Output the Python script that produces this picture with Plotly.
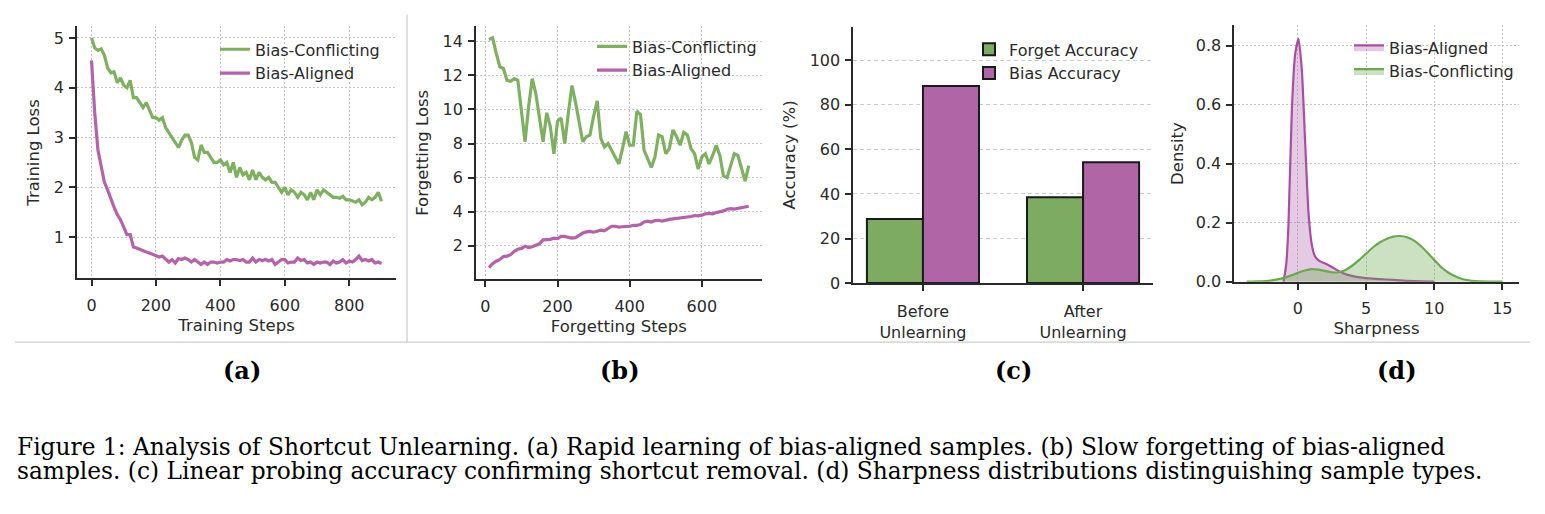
import plotly.graph_objects as go

W, H = 1545, 514

# ---------------- data ----------------
train_steps = list(range(0, 901, 10))
train_conflicting = [5.0, 4.8, 4.75, 4.78, 4.65, 4.4, 4.3, 4.32, 4.1, 4.2,
                     4.05, 4.0, 4.15, 3.8, 3.8, 3.7, 3.6, 3.7, 3.55, 3.4,
                     3.4, 3.35, 3.4, 3.2, 3.1, 3.0, 2.9, 2.8, 2.95, 3.05,
                     3.05, 2.9, 2.6, 2.55, 2.85, 2.7, 2.7, 2.6, 2.5, 2.5,
                     2.55, 2.45, 2.5, 2.3, 2.5, 2.2, 2.4, 2.25, 2.3, 2.15,
                     2.35, 2.15, 2.3, 2.2, 2.15, 2.2, 2.1, 2.1, 2.0, 1.9,
                     2.0, 1.85, 1.95, 1.9, 1.8, 1.9, 1.85, 1.75, 1.9, 1.75,
                     1.95, 1.85, 1.95, 1.9, 1.85, 1.8, 1.8, 1.78, 1.82, 1.75,
                     1.75, 1.72, 1.7, 1.75, 1.65, 1.7, 1.8, 1.75, 1.8, 1.9,
                     1.72]
train_aligned = [4.55, 3.5, 2.75, 2.4, 2.1, 1.95, 1.75, 1.6, 1.45, 1.35,
                 1.2, 1.05, 1.05, 0.8, 0.78, 0.75, 0.72, 0.7, 0.68, 0.65,
                 0.62, 0.6, 0.62, 0.55, 0.5, 0.55, 0.48, 0.57, 0.55, 0.58,
                 0.55, 0.5, 0.55, 0.5, 0.45, 0.5, 0.45, 0.5, 0.5, 0.48,
                 0.5, 0.5, 0.55, 0.52, 0.55, 0.55, 0.53, 0.55, 0.5, 0.5,
                 0.58, 0.5, 0.55, 0.53, 0.55, 0.52, 0.55, 0.45, 0.5, 0.55,
                 0.55, 0.48, 0.5, 0.5, 0.58, 0.53, 0.55, 0.48, 0.5, 0.45,
                 0.5, 0.48, 0.5, 0.5, 0.45, 0.52, 0.48, 0.5, 0.55, 0.48,
                 0.52, 0.5, 0.55, 0.62, 0.53, 0.55, 0.52, 0.55, 0.48, 0.5,
                 0.47]

forget_steps = list(range(10, 731, 10))
forget_conflicting = [14.1, 14.2, 13.3, 12.5, 12.4, 11.7, 11.65, 11.8, 11.7, 10.0,
                      8.1, 10.2, 11.8, 10.9, 9.5, 8.1, 9.8, 9.0, 7.4, 9.3,
                      9.5, 8.0, 9.8, 11.4, 10.4, 9.2, 8.1, 8.4, 8.5, 9.6,
                      10.5, 8.3, 7.8, 8.0, 7.6, 7.2, 6.8, 7.7, 8.7, 7.9,
                      7.9, 9.9, 9.7, 7.6, 7.1, 6.6, 7.2, 8.5, 8.4, 7.4,
                      7.7, 8.8, 8.4, 7.9, 8.65, 8.5, 7.7, 7.4, 6.5, 7.2,
                      7.4, 6.8, 7.3, 7.9, 7.3, 6.1, 6.0, 6.7, 7.4, 7.3,
                      6.6, 5.8, 6.7]
forget_aligned = [0.73, 0.95, 1.1, 1.2, 1.37, 1.4, 1.48, 1.68, 1.8, 1.85,
                  1.98, 1.9, 1.95, 2.05, 2.12, 2.35, 2.35, 2.38, 2.45, 2.42,
                  2.55, 2.55, 2.5, 2.45, 2.48, 2.62, 2.75, 2.82, 2.85, 2.8,
                  2.85, 2.92, 2.88, 3.0, 3.15, 3.15, 3.1, 3.12, 3.12, 3.15,
                  3.2, 3.2, 3.25, 3.4, 3.45, 3.4, 3.48, 3.5, 3.45, 3.52,
                  3.55, 3.58, 3.6, 3.62, 3.68, 3.68, 3.72, 3.78, 3.76, 3.8,
                  3.88, 3.9, 3.88, 3.95, 4.0, 4.05, 4.15, 4.18, 4.15, 4.2,
                  4.22, 4.28, 4.32]

bar_categories = ["Before<br>Unlearning", "After<br>Unlearning"]
forget_accuracy = [28.8, 38.5]
bias_accuracy = [88.4, 54.2]

kde_aligned_x = [-1.05, -0.85, -0.69, -0.44, -0.2, 0.05, 0.29, 0.54, 0.78, 1.03,
                 1.27, 1.6, 2.1, 2.6, 3.1, 3.6, 4.2, 5.0, 6.0, 7.0, 8.0, 9.0, 10.0]
kde_aligned_y = [0.0, 0.06, 0.19, 0.58, 0.77, 0.824, 0.72, 0.47, 0.235, 0.124,
                 0.085, 0.07, 0.06, 0.047, 0.034, 0.024, 0.017, 0.012, 0.009, 0.006,
                 0.003, 0.001, 0.0]
kde_conflicting_x = [-3.75, -3.0, -2.0, -1.0, -0.5, 0.0, 0.5, 1.0, 1.5, 2.0,
                     2.5, 3.0, 3.5, 4.0, 4.5, 5.0, 5.5, 6.0, 6.5, 7.0,
                     7.5, 8.0, 8.5, 9.0, 9.5, 10.0, 10.5, 11.0, 11.5, 12.0,
                     12.5, 13.0, 14.0, 15.0]
kde_conflicting_y = [0.0, 0.001, 0.004, 0.013, 0.021, 0.03, 0.038, 0.043, 0.041, 0.037,
                     0.032, 0.032, 0.04, 0.055, 0.074, 0.095, 0.116, 0.133, 0.145, 0.153,
                     0.155, 0.151, 0.14, 0.122, 0.099, 0.074, 0.05, 0.032, 0.019, 0.01,
                     0.005, 0.002, 0.0005, 0.0]

panel_labels = ["(a)", "(b)", "(c)", "(d)"]
caption_lines = [
    "Figure 1: Analysis of Shortcut Unlearning. (a) Rapid learning of bias-aligned samples. (b) Slow forgetting of bias-aligned",
    "samples. (c) Linear probing accuracy confirming shortcut removal. (d) Sharpness distributions distinguishing sample types.",
]

# ---------------- style ----------------
GREEN = "#7fb061"
PURPLE = "#b463aa"
BAR_GREEN = "#7dab62"
BAR_PURPLE = "#b066a6"
KDE_PURPLE = "#a94ea1"
KDE_GREEN = "#6aa84f"
TXT = "#2a2a2a"
FONT = "DejaVu Sans"
TICK_SIZE = 16
TITLE_SIZE = 16.5
SERIF = "DejaVu Serif"


def fx(px):
    return px / W


def fy(px):
    return 1 - px / H


fig = go.Figure()

# (a)
fig.add_trace(go.Scatter(x=train_steps, y=train_conflicting, mode="lines", name="Bias-Conflicting",
                         line=dict(color=GREEN, width=3.2), xaxis="x", yaxis="y", legend="legend"))
fig.add_trace(go.Scatter(x=train_steps, y=train_aligned, mode="lines", name="Bias-Aligned",
                         line=dict(color=PURPLE, width=3.2), xaxis="x", yaxis="y", legend="legend"))
# (b)
fig.add_trace(go.Scatter(x=forget_steps, y=forget_conflicting, mode="lines", name="Bias-Conflicting",
                         line=dict(color=GREEN, width=3.2), xaxis="x2", yaxis="y2", legend="legend2"))
fig.add_trace(go.Scatter(x=forget_steps, y=forget_aligned, mode="lines", name="Bias-Aligned",
                         line=dict(color=PURPLE, width=3.2), xaxis="x2", yaxis="y2", legend="legend2"))
# (c)
fig.add_trace(go.Bar(x=[0, 1], y=forget_accuracy, width=0.35, offset=-0.35, name="Forget Accuracy",
                     marker=dict(color=BAR_GREEN, line=dict(color="#1a1a1a", width=2)),
                     xaxis="x3", yaxis="y3", legend="legend3"))
fig.add_trace(go.Bar(x=[0, 1], y=bias_accuracy, width=0.35, offset=0, name="Bias Accuracy",
                     marker=dict(color=BAR_PURPLE, line=dict(color="#1a1a1a", width=2)),
                     xaxis="x3", yaxis="y3", legend="legend3"))
# (d)
fig.add_trace(go.Scatter(x=kde_aligned_x, y=kde_aligned_y, mode="lines", name="Bias-Aligned",
                         line=dict(color=KDE_PURPLE, width=2.2, shape="spline", smoothing=0.6),
                         fill="tozeroy", fillcolor="rgba(169,78,161,0.30)",
                         xaxis="x4", yaxis="y4", legend="legend4"))
fig.add_trace(go.Scatter(x=kde_conflicting_x, y=kde_conflicting_y, mode="lines", name="Bias-Conflicting",
                         line=dict(color=KDE_GREEN, width=2.2, shape="spline", smoothing=0.6),
                         fill="tozeroy", fillcolor="rgba(106,168,79,0.35)",
                         xaxis="x4", yaxis="y4", legend="legend4"))

axis_common = dict(showline=True, linecolor=TXT, linewidth=1.8, ticks="outside", ticklen=6,
                   tickwidth=1.6, tickcolor=TXT, mirror=False, zeroline=False,
                   tickfont=dict(family=FONT, size=TICK_SIZE, color=TXT),
                   showgrid=True, gridcolor="#c4c4c4", gridwidth=1, griddash="1.5px,2.5px")


def ax(**kw):
    d = dict(axis_common)
    d.update(kw)
    return d


def title(t, standoff):
    return dict(text=t, font=dict(family=FONT, size=TITLE_SIZE, color=TXT), standoff=standoff)


legend_common = dict(bgcolor="rgba(0,0,0,0)", borderwidth=0, xanchor="left", yanchor="top",
                     font=dict(family=FONT, size=TICK_SIZE, color=TXT), tracegroupgap=0)


def leg(xpx, ypx):
    d = dict(legend_common)
    d.update(x=fx(xpx), y=fy(ypx))
    return d


XSTAND = 5
fig.update_layout(
    width=W, height=H, margin=dict(l=0, r=0, t=0, b=0),
    paper_bgcolor="white", plot_bgcolor="white",
    barmode="overlay", showlegend=True,
    xaxis=ax(domain=[fx(77), fx(396)], range=[-45, 945], tickvals=[0, 200, 400, 600, 800],
             anchor="y", ticklabelstandoff=XSTAND, title=title("Training Steps", 6)),
    yaxis=ax(domain=[fy(284), fy(27)], range=[0.17, 5.23], tickvals=[1, 2, 3, 4, 5],
             anchor="x", ticklabelstandoff=2, title=title("Training Loss", 10)),
    xaxis2=ax(domain=[fx(476), fx(761.7)], range=[-26, 766], tickvals=[0, 200, 400, 600],
              anchor="y2", ticklabelstandoff=XSTAND, title=title("Forgetting Steps", 6)),
    yaxis2=ax(domain=[fy(285), fy(26.7)], range=[0.03, 14.88], tickvals=[2, 4, 6, 8, 10, 12, 14],
              anchor="x2", ticklabelstandoff=2, title=title("Forgetting Loss", 10)),
    xaxis3=ax(domain=[fx(853.3), fx(1152.7)], range=[-0.435, 1.435], tickvals=[0, 1],
              ticktext=bar_categories, showgrid=False, anchor="y3", ticklabelstandoff=XSTAND + 2),
    yaxis3=ax(domain=[fy(288.7), fy(27.3)], range=[0, 115], tickvals=[0, 20, 40, 60, 80, 100],
              griddash="4px,3px", gridcolor="#cccccc", anchor="x3", ticklabelstandoff=2,
              title=title("Accuracy (%)", 10)),
    xaxis4=ax(domain=[fx(1234.3), fx(1518.7)], range=[-4.66, 16.2], tickvals=[0, 5, 10, 15],
              anchor="y4", ticklabelstandoff=XSTAND, title=title("Sharpness", 6)),
    yaxis4=ax(domain=[fy(287.3), fy(26)], range=[0, 0.869], tickvals=[0, 0.2, 0.4, 0.6, 0.8],
              tickformat=".1f", anchor="x4", ticklabelstandoff=2, title=title("Density", 8)),
    legend=leg(215, 33),
    legend2=leg(592, 30),
    legend3=leg(969, 33),
    legend4=leg(1349, 31),
)

# separators
fig.add_shape(type="line", xref="paper", yref="paper", x0=fx(407), x1=fx(407), y0=fy(15), y1=fy(349),
              line=dict(color="#cccccc", width=1.2))
fig.add_shape(type="line", xref="paper", yref="paper", x0=fx(15), x1=fx(1530), y0=fy(349), y1=fy(349),
              line=dict(color="#cccccc", width=1.2))

# panel labels
for lab, xc in zip(panel_labels, [242, 620, 1013, 1397]):
    fig.add_annotation(text="<b>" + lab + "</b>", xref="paper", yref="paper", x=fx(xc), y=fy(378),
                       xanchor="center", yanchor="middle", showarrow=False,
                       font=dict(family=SERIF, size=24, color="black"))

# caption
for line, ypx in zip(caption_lines, [455, 480]):
    fig.add_annotation(text=line, xref="paper", yref="paper", x=fx(15), y=fy(ypx),
                       xanchor="left", yanchor="middle", showarrow=False,
                       font=dict(family=SERIF, size=23.3, color="black"))

fig.write_html("out.html")
